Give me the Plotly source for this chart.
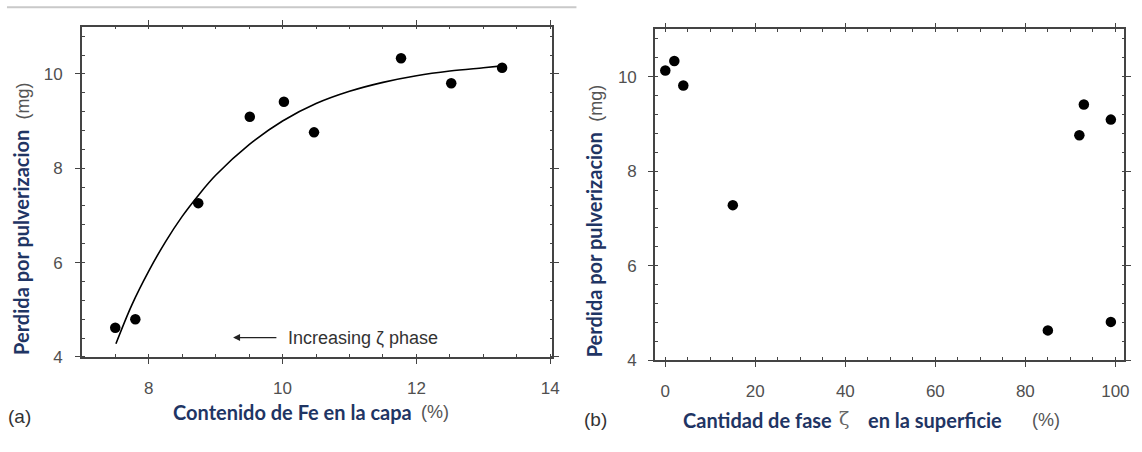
import plotly.graph_objects as go

# ---- data ----
fe_content = [7.50, 7.80, 8.74, 9.51, 10.02, 10.47, 11.77, 12.52, 13.28]
loss_a = [4.62, 4.80, 7.26, 9.09, 9.41, 8.76, 10.33, 9.80, 10.13]

fit_x = [7.51, 7.75, 8.0, 8.25, 8.5, 8.75, 9.0, 9.5, 10.0, 10.5, 11.0, 11.5, 12.0, 12.5, 13.0, 13.28]
fit_y = [4.28, 5.11, 5.82, 6.44, 6.98, 7.44, 7.85, 8.50, 9.00, 9.37, 9.63, 9.82, 9.96, 10.06, 10.13, 10.17]

zeta_phase = [0, 2, 4, 15, 85, 92, 93, 99, 99]
loss_b = [10.13, 10.33, 9.81, 7.28, 4.63, 8.76, 9.41, 9.09, 4.81]

W, H = 1142, 452


def px(x):
    return x / W


def py(y):
    return 1 - y / H


TITLE_COLOR = "#1f3564"
TICK_COLOR = "#505050"
AXIS_COLOR = "#444444"

fig = go.Figure()
fig.add_trace(go.Scatter(x=fit_x, y=fit_y, mode="lines", line=dict(color="black", width=1.6, shape="spline"),
                         xaxis="x", yaxis="y", showlegend=False, hoverinfo="skip"))
fig.add_trace(go.Scatter(x=fe_content, y=loss_a, mode="markers", marker=dict(color="black", size=10.5),
                         xaxis="x", yaxis="y", showlegend=False))
fig.add_trace(go.Scatter(x=zeta_phase, y=loss_b, mode="markers", marker=dict(color="black", size=10.5),
                         xaxis="x2", yaxis="y2", showlegend=False))


def axis_common(**kw):
    d = dict(showline=True, linecolor=AXIS_COLOR, linewidth=1.5, mirror="allticks",
             ticks="outside", ticklen=5, tickwidth=1.3, tickcolor=AXIS_COLOR,
             showgrid=False, zeroline=False,
             tickfont=dict(family="Liberation Sans, Arial", size=17, color=TICK_COLOR),
             minor=dict(ticks="inside", ticklen=3, tickwidth=1, tickcolor=AXIS_COLOR, showgrid=False))
    d.update(kw)
    return d


fig.update_layout(
    width=W, height=H, margin=dict(l=0, r=0, t=0, b=0),
    plot_bgcolor="white", paper_bgcolor="white",
    xaxis=axis_common(domain=[px(82.3), px(555.7)], range=[7, 14.03], dtick=2, tick0=0, anchor="y",
                      ticklabelstandoff=10),
    yaxis=axis_common(domain=[py(365), py(27.3)], range=[4, 11], dtick=2, tick0=0, anchor="x",
                      ticklabelstandoff=9),
    xaxis2=axis_common(domain=[px(659), px(1131.3)], range=[-2.3, 102], dtick=20, tick0=0, anchor="y2",
                       ticklabelstandoff=10),
    yaxis2=axis_common(domain=[py(368.3), py(30)], range=[4, 11], dtick=2, tick0=0, anchor="x2",
                       ticklabelstandoff=8),
)
fig.layout.xaxis.minor.dtick = 0.5
fig.layout.xaxis.minor.tick0 = 0
fig.layout.yaxis.minor.dtick = 0.4
fig.layout.yaxis.minor.tick0 = 0
fig.layout.xaxis2.minor.dtick = 5
fig.layout.xaxis2.minor.tick0 = 0
fig.layout.yaxis2.minor.dtick = 0.4
fig.layout.yaxis2.minor.tick0 = 0

# top gray rule
fig.add_shape(type="line", xref="paper", yref="paper", x0=px(7), x1=px(580), y0=py(7.5), y1=py(7.5),
              line=dict(color="#c9c9c9", width=2))

TF = "Lato, Carlito, sans-serif"
AF = "Liberation Sans, Arial, sans-serif"
TS = 20

anns = []


def pa(x, y, text, xa="center", ya="middle", **kw):
    d = dict(x=px(x), y=py(y), xref="paper", yref="paper", text=text, showarrow=False,
             xanchor=xa, yanchor=ya)
    d.update(kw)
    anns.append(d)


# y titles
ytitle = ("<b>Perdida por pulverizacion</b>  "
          "<span style='font-family:Liberation Sans, Arial;font-size:18px;color:#555555'>(mg)</span>")
pa(21, 224, ytitle, textangle=-90, font=dict(family=TF, size=TS, color=TITLE_COLOR))
pa(598, 226, ytitle, textangle=-90, font=dict(family=TF, size=TS, color=TITLE_COLOR))
# x titles
pa(171.7, 421.7, "<b>Contenido de Fe en la capa</b>", xa="left", font=dict(family=TF, size=TS, color=TITLE_COLOR))
pa(421.7, 421.7, "(%)", xa="left", font=dict(family=AF, size=18, color="#555555"))
pa(685, 429, "<b>Cantidad de fase</b>", xa="left", font=dict(family=TF, size=TS, color=TITLE_COLOR))
pa(849, 427, "ζ", font=dict(family="DejaVu Serif, serif", size=19, color="#666666"))
pa(871.6, 429, "<b>en la superficie</b>", xa="left", font=dict(family=TF, size=TS, color=TITLE_COLOR))
pa(1036, 429, "(%)", xa="left", font=dict(family=AF, size=18, color="#555555"))
# panel labels
pa(20, 426, "(a)", font=dict(family=AF, size=19, color="#333333"))
pa(599, 429, "(b)", font=dict(family=AF, size=19, color="#333333"))

# arrow + text in panel (a)
anns.append(dict(x=9.26, y=4.41, ax=9.93, ay=4.41, xref="x", yref="y", axref="x", ayref="y",
                 text="", showarrow=True, arrowhead=2, arrowsize=1, arrowwidth=1.4, arrowcolor="#222222"))
anns.append(dict(x=10.05, y=4.41, xref="x", yref="y", xanchor="left", yanchor="middle",
                 text="Increasing ζ phase", showarrow=False,
                 font=dict(family=AF, size=18, color="#333333")))

fig.update_layout(annotations=anns)
fig.write_html("out.html")
